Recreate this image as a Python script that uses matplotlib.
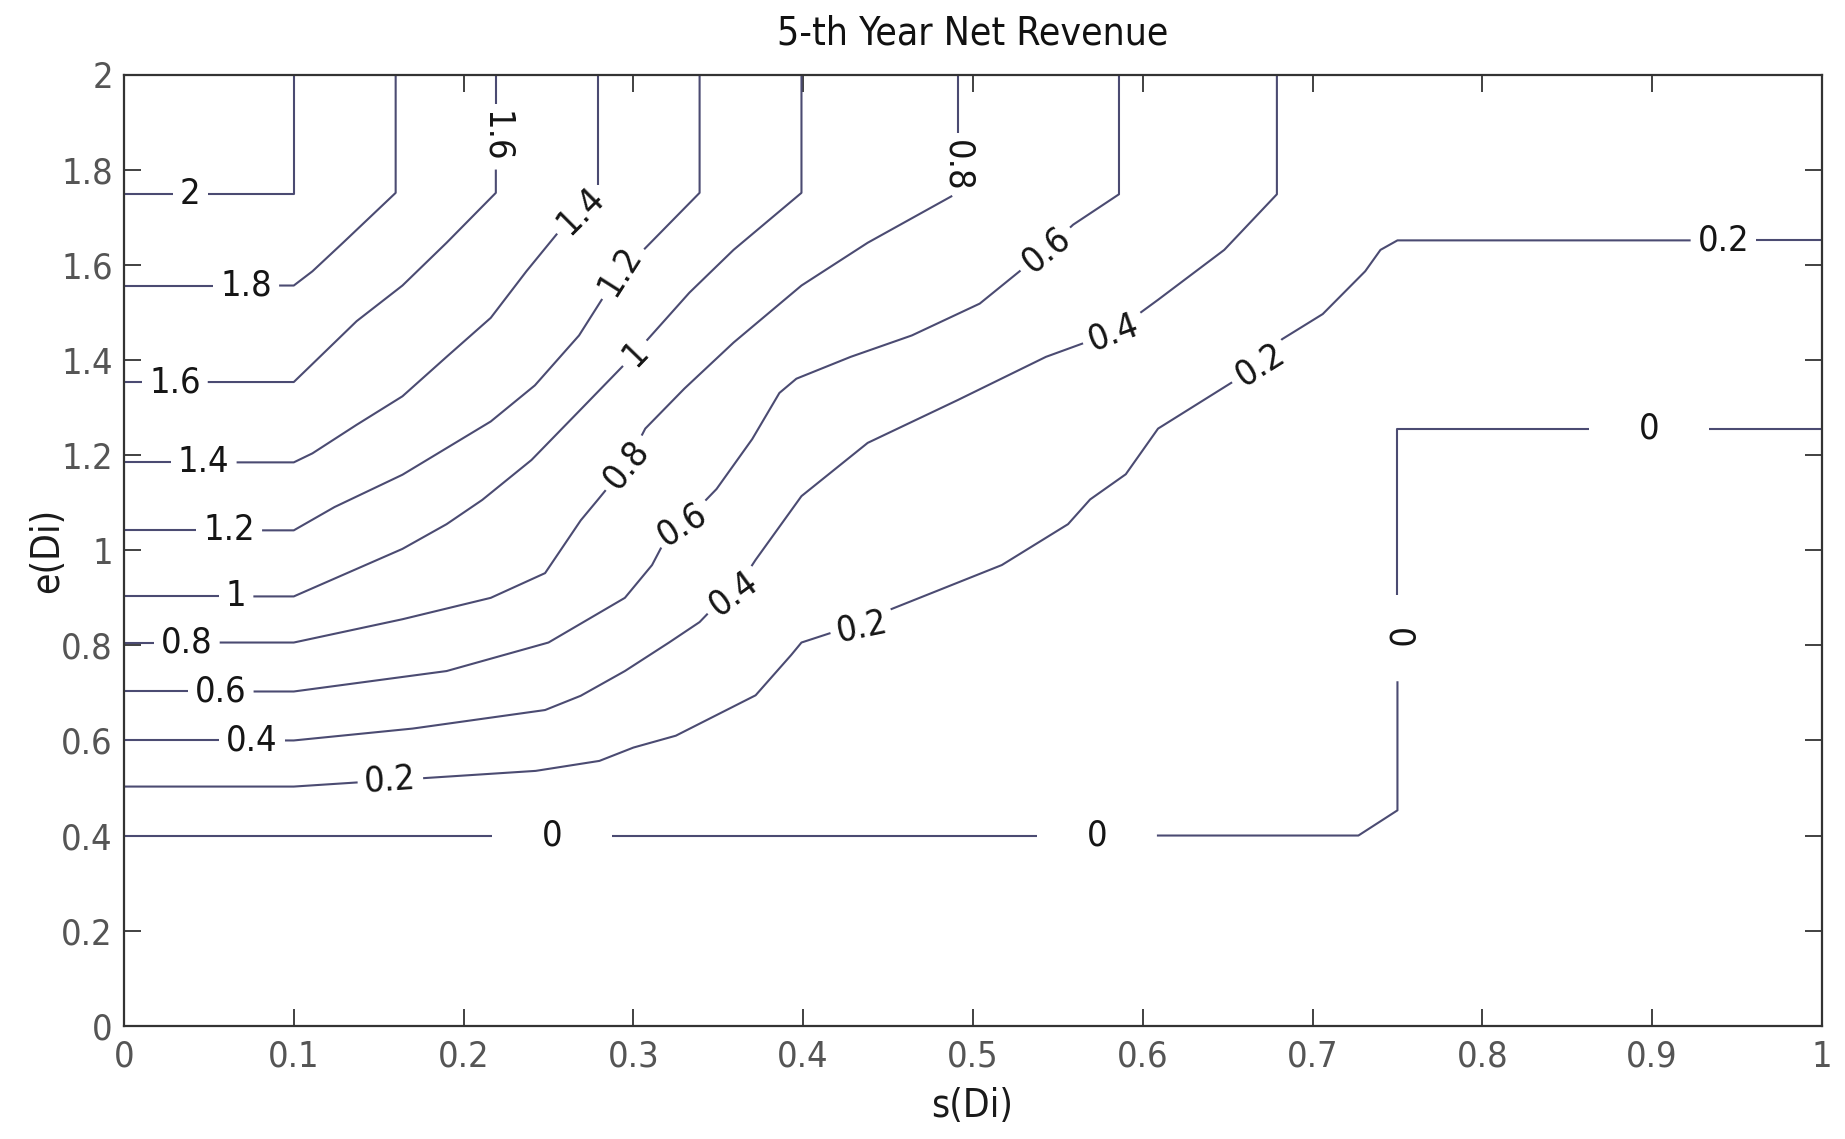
import matplotlib
matplotlib.use('Agg')
import matplotlib.pyplot as plt
from matplotlib import font_manager
import numpy as np

# prefer a narrow face, the labels are tall and thin
installed = font_manager.fontManager.ttflist
narrow = None
for f in installed:
    if f.name == 'Liberation Sans Narrow':
        narrow = dict(family='Liberation Sans Narrow')
        break
if narrow is None:
    for f in installed:
        if f.name == 'DejaVu Sans' and f.stretch == 'condensed':
            narrow = dict(family='DejaVu Sans', stretch='condensed')
            break
if narrow is None:
    narrow = dict(family='Liberation Sans')
plt.rcParams['font.family'] = [narrow['family'], 'DejaVu Sans']
if 'stretch' in narrow:
    plt.rcParams['font.stretch'] = narrow['stretch']

# contour polylines of net revenue over (s, e), one pair per level
s_20 = [0, 0.1, 0.1]
e_20 = [1.75, 1.75, 2.0]
s_18 = [0, 0.1, 0.111, 0.129, 0.16, 0.16]
e_18 = [1.557, 1.557, 1.587, 1.647, 1.752, 2.0]
s_16 = [0, 0.1, 0.111, 0.137, 0.164, 0.19, 0.219, 0.219]
e_16 = [1.354, 1.354, 1.392, 1.482, 1.557, 1.647, 1.752, 2.0]
s_14 = [0, 0.1, 0.111, 0.137, 0.164, 0.19, 0.216, 0.237, 0.256, 0.279, 0.279]
e_14 = [1.185, 1.185, 1.204, 1.264, 1.324, 1.407, 1.489, 1.587, 1.67, 1.752, 2.0]
s_12 = [0, 0.1, 0.124, 0.164, 0.216, 0.242, 0.268, 0.292, 0.306, 0.339, 0.339]
e_12 = [1.042, 1.042, 1.091, 1.159, 1.271, 1.347, 1.452, 1.587, 1.632, 1.752, 2.0]
s_10 = [0, 0.1, 0.164, 0.19, 0.211, 0.24, 0.27, 0.301, 0.333, 0.359, 0.399, 0.399]
e_10 = [0.903, 0.903, 1.003, 1.055, 1.106, 1.19, 1.30, 1.414, 1.542, 1.632, 1.752, 2.0]
s_08 = [0, 0.1, 0.164, 0.216, 0.248, 0.269, 0.279, 0.296, 0.307, 0.33, 0.359, 0.399, 0.438, 0.491, 0.491]
e_08 = [0.806, 0.806, 0.855, 0.9, 0.952, 1.063, 1.106, 1.18, 1.256, 1.34, 1.437, 1.557, 1.647, 1.752, 2.0]
s_06 = [0, 0.1, 0.19, 0.25, 0.295, 0.311, 0.321, 0.329, 0.349, 0.37, 0.386, 0.396, 0.428, 0.464,
        0.504, 0.543, 0.559, 0.586, 0.586]
e_06 = [0.703, 0.703, 0.746, 0.806, 0.9, 0.969, 1.037, 1.055, 1.129, 1.234, 1.331, 1.361, 1.407, 1.452,
        1.519, 1.632, 1.685, 1.749, 2.0]
s_04 = [0, 0.1, 0.17, 0.248, 0.269, 0.295, 0.321, 0.339, 0.346, 0.359, 0.372, 0.399, 0.438, 0.491,
        0.543, 0.583, 0.609, 0.648, 0.679, 0.679]
e_04 = [0.6, 0.6, 0.625, 0.664, 0.694, 0.746, 0.806, 0.849, 0.875, 0.909, 0.98, 1.114, 1.226, 1.316,
        1.407, 1.459, 1.527, 1.632, 1.749, 2.0]
s_02 = [0, 0.1, 0.2425, 0.28, 0.3, 0.325, 0.372, 0.393, 0.399, 0.417, 0.435, 0.451, 0.517, 0.556,
        0.569, 0.59, 0.609, 0.656, 0.669, 0.682, 0.706, 0.731, 0.74, 0.75, 1.0]
e_02 = [0.503, 0.503, 0.536, 0.557, 0.585, 0.61, 0.695, 0.78, 0.806, 0.827, 0.84, 0.875, 0.969, 1.055,
        1.107, 1.16, 1.256, 1.361, 1.39, 1.444, 1.497, 1.587, 1.632, 1.652, 1.652]
s_00 = [0, 0.727, 0.75, 0.75, 1.0]
e_00 = [0.4, 0.4, 0.453, 1.256, 1.256]

levels = [2, 1.8, 1.6, 1.4, 1.2, 1, 0.8, 0.6, 0.4, 0.2, 0]
level_s = [s_20, s_18, s_16, s_14, s_12, s_10, s_08, s_06, s_04, s_02, s_00]
level_e = [e_20, e_18, e_16, e_14, e_12, e_10, e_08, e_06, e_04, e_02, e_00]

# where clabel put the inline labels
label_at = {
    2: [(0.039, 1.75)],
    1.8: [(0.072, 1.557)],
    1.6: [(0.03, 1.354), (0.219, 1.87)],
    1.4: [(0.047, 1.185), (0.271, 1.707)],
    1.2: [(0.062, 1.042), (0.292, 1.587)],
    1: [(0.066, 0.903), (0.301, 1.414)],
    0.8: [(0.037, 0.806), (0.296, 1.18), (0.491, 1.808)],
    0.6: [(0.057, 0.703), (0.329, 1.055), (0.543, 1.632)],
    0.4: [(0.0755, 0.6), (0.359, 0.909), (0.583, 1.459)],
    0.2: [(0.157, 0.51), (0.435, 0.84), (0.669, 1.39), (0.942, 1.652)],
    0: [(0.252, 0.4), (0.573, 0.4), (0.752, 0.815), (0.898, 1.256)],
}
zero_gaps = [120, 120, 86, 120]

x_ticks = np.arange(0, 1.01, 0.1)
x_ticklabels = ['0', '0.1', '0.2', '0.3', '0.4', '0.5', '0.6', '0.7', '0.8', '0.9', '1']
y_ticks = np.arange(0, 2.01, 0.2)
y_ticklabels = ['0', '0.2', '0.4', '0.6', '0.8', '1', '1.2', '1.4', '1.6', '1.8', '2']

line_color = '#4b4b72'
fs = 26


def fmt(v):
    return ('%g' % v)


def project(px, p):
    best = None
    for i in range(len(px) - 1):
        a, b = px[i], px[i + 1]
        d = b - a
        L2 = d @ d
        t = float(np.clip((p - a) @ d / L2, 0, 1)) if L2 > 0 else 0.0
        q = a + t * d
        dist = np.hypot(*(p - q))
        if best is None or dist < best[0]:
            best = (dist, i, t, q, d)
    return best[1:]


def cut_gaps(px, cum, seg, gaps):
    def at(s):
        s = min(max(s, 0), cum[-1])
        i = int(np.searchsorted(cum, s, side='right')) - 1
        i = min(max(i, 0), len(seg) - 1)
        t = (s - cum[i]) / seg[i] if seg[i] > 0 else 0
        return px[i] + t * (px[i + 1] - px[i])

    keep = []
    start = 0.0
    for c, h in sorted(gaps):
        keep.append((start, c - h))
        start = c + h
    keep.append((start, cum[-1]))
    pieces = []
    for a, b in keep:
        if b <= a:
            continue
        inner = px[(cum > a) & (cum < b)]
        pieces.append(np.vstack([at(a), inner, at(b)]))
    return pieces


fig = plt.figure(figsize=(18.45, 11.39), dpi=100)
ax = fig.add_axes([0.0672, 0.0995, 0.9203, 0.8347])
ax.set_xlim(0, 1)
ax.set_ylim(0, 2)
renderer = fig.canvas.get_renderer()
to_data = ax.transData.inverted()

for lev, xs, ys in zip(levels, level_s, level_e):
    px = ax.transData.transform(np.column_stack([xs, ys]))
    seg = np.hypot(*np.diff(px, axis=0).T)
    cum = np.concatenate([[0], np.cumsum(seg)])
    gaps = []
    for k, (lx, ly) in enumerate(label_at[lev]):
        i, t, q, d = project(px, ax.transData.transform((lx, ly)))
        ang = np.degrees(np.arctan2(d[1], d[0]))
        if ang >= 89.5:
            ang -= 180
        elif ang < -90:
            ang += 180
        qx, qy = to_data.transform(q)
        txt = ax.text(qx, qy, fmt(lev), fontsize=fs, color='#151515',
                      ha='center', va='center', rotation=0, rotation_mode='anchor')
        w = txt.get_window_extent(renderer).width
        txt.set_rotation(ang)
        if lev == 0:
            half = zero_gaps[k] / 2
        else:
            half = w / 2 + 7
        gaps.append((cum[i] + t * seg[i], half))
    for piece in cut_gaps(px, cum, seg, gaps):
        dxy = to_data.transform(piece)
        ax.plot(dxy[:, 0], dxy[:, 1], color=line_color, lw=1.5, solid_capstyle='butt')

ax.set_xticks(x_ticks)
ax.set_xticklabels(x_ticklabels)
ax.set_yticks(y_ticks)
ax.set_yticklabels(y_ticklabels)
ax.tick_params(direction='in', length=12, width=1.3, color='#333333', top=True, right=True,
               labelsize=fs, labelcolor='#555555')
ax.tick_params(axis='x', pad=10)
ax.tick_params(axis='y', pad=8)
for sp in ax.spines.values():
    sp.set_color('#333333')
    sp.set_linewidth(1.6)

fig.text(0.527, 0.971, '5-th Year Net Revenue', fontsize=28, color='#111111',
         ha='center', va='center')
fig.text(0.527, 0.029, 's(Di)', fontsize=28, color='#1a1a1a', ha='center', va='center')
fig.text(0.0255, 0.5168, 'e(Di)', fontsize=28, color='#1a1a1a', ha='center', va='center',
         rotation=90)

fig.savefig('out.png', dpi=100)
